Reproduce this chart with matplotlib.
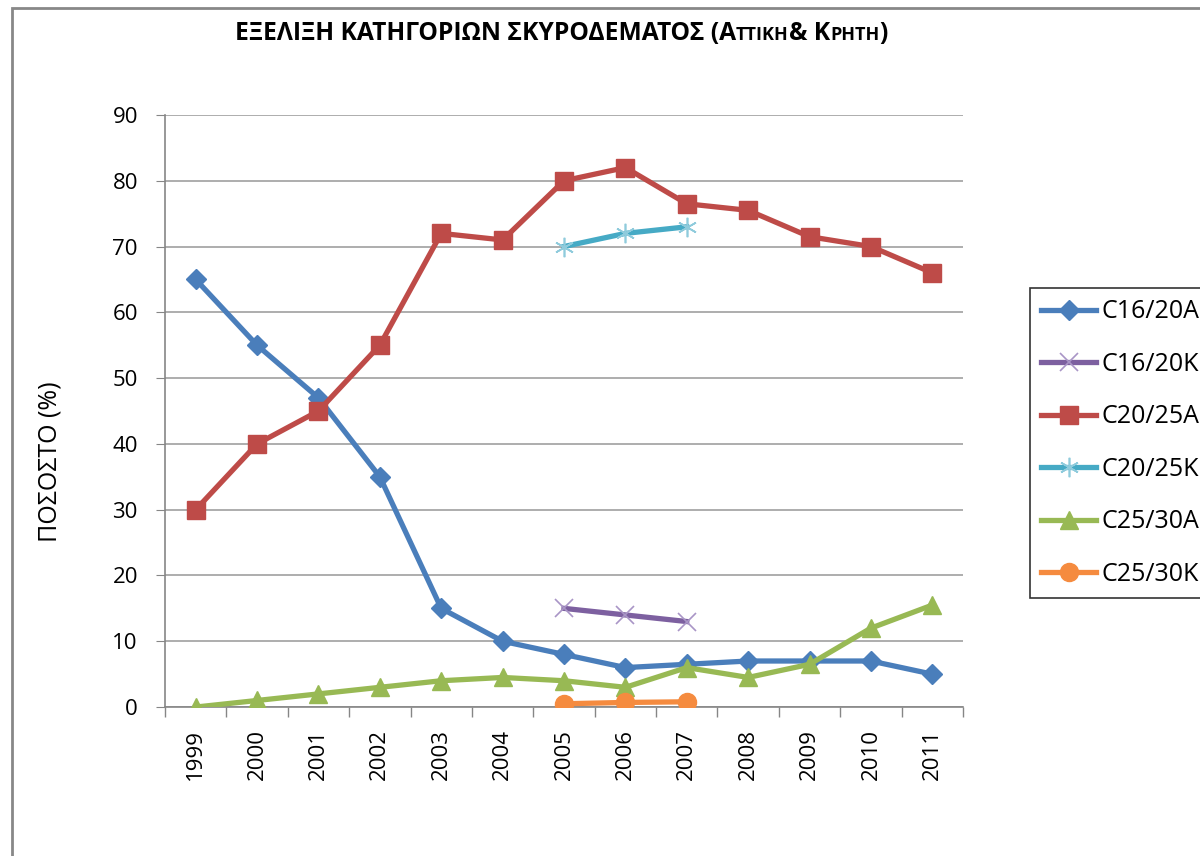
import matplotlib.pyplot as plt
import matplotlib.patches as mpatches

plt.rcParams['font.family'] = ['Open Sans', 'DejaVu Sans']

years = ['1999', '2000', '2001', '2002', '2003', '2004', '2005',
         '2006', '2007', '2008', '2009', '2010', '2011']

c1620a = [65, 55, 47, 35, 15, 10, 8, 6, 6.5, 7, 7, 7, 5]
c1620k = [15, 14, 13]
c2025a = [30, 40, 45, 55, 72, 71, 80, 82, 76.5, 75.5, 71.5, 70, 66]
c2025k = [70, 72, 73]
c2530a = [0, 1, 2, 3, 4, 4.5, 4, 3, 6, 4.5, 6.5, 12, 15.5]
c2530k = [0.5, 0.7, 0.8]
k_years = ['2005', '2006', '2007']

fig = plt.figure(figsize=(12, 8.56), dpi=100)
ax = fig.add_axes([0.1375, 0.174, 0.665, 0.6917])

# outer chart border (cut at right/bottom like the screenshot)
fig.patches.append(mpatches.Rectangle((12 / 1200, -0.05), 1.2, 1 - 8 / 856 + 0.05,
                                      transform=fig.transFigure, fill=False,
                                      edgecolor='#888888', linewidth=2))

x_all = list(range(len(years)))
x_k = [years.index(y) for y in k_years]

lw = 3.8
ax.plot(x_all, c1620a, color='#4A7EBB', lw=lw, marker='D', ms=10.5, label='C16/20A', zorder=3)
ax.plot(x_k, c1620k, color='#7D60A0', lw=lw, marker='x', ms=12.5, mew=1.2,
        mec='#A995C6', label='C16/20K', zorder=3)
ax.plot(x_all, c2025a, color='#BE4B48', lw=lw, marker='s', ms=13, label='C20/25A', zorder=3)
ax.plot(x_k, c2025k, color='#46AAC5', lw=lw, marker=(6, 2, 0), ms=14, mew=1.2,
        mec='#8FCBDC', label='C20/25K', zorder=3)
ax.plot(x_all, c2530a, color='#98B954', lw=lw, marker='^', ms=13, label='C25/30A', zorder=3)
ax.plot(x_k, c2530k, color='#F58B3F', lw=lw, marker='o', ms=13, label='C25/30K', zorder=4)

ax.set_xlim(-0.5, len(years) - 0.5)
ax.set_ylim(0, 90)
ax.set_yticks(range(0, 91, 10))
ax.set_xticks(x_all)
ax.set_xticklabels(years, rotation=90)
ax.set_xticks([i - 0.5 for i in range(len(years) + 1)], minor=True)
ax.tick_params(axis='x', which='major', length=0, pad=16, labelsize=16)
ax.tick_params(axis='x', which='minor', length=7, color='#868686', width=1)
ax.tick_params(axis='y', length=6.5, color='#868686', labelsize=16, pad=13)
fig.text(50 / 1200, 1 - 462 / 856, 'ΠΟΣΟΣΤΟ (%)', rotation=90, fontsize=18,
         ha='center', va='center')

ax.grid(axis='y', color='#A0A0A0', lw=1.2)
ax.set_axisbelow(True)
for side in ['top', 'right']:
    ax.spines[side].set_visible(False)
for side in ['left', 'bottom']:
    ax.spines[side].set_color('#868686')
    ax.spines[side].set_linewidth(1.2)

# title with small caps parts, baselines kept level
big, small = 17.7, 13
dy = 0.24 * (big - small)
t = fig.text(235 / 1200, 1 - 40 / 856, 'ΕΞΕΛΙΞΗ ΚΑΤΗΓΟΡΙΩΝ ΣΚΥΡΟΔΕΜΑΤΟΣ (Α',
             fontsize=big, fontweight='bold', va='baseline', ha='left')
parts = [('ΤΤΙΚΗ', small, dy), ('& Κ', big, -dy), ('ΡΗΤΗ', small, dy), (')', big, -dy)]
prev = t
for txt, fs, off in parts:
    prev = ax.annotate(txt, xy=(1, 0), xycoords=prev, xytext=(0, off),
                       textcoords='offset points', va='bottom', ha='left',
                       fontsize=fs, fontweight='bold', annotation_clip=False)

leg = fig.legend(loc='upper left', bbox_to_anchor=(1030 / 1200, 1 - 288 / 856),
                 fontsize=18, frameon=True, fancybox=False, edgecolor='black',
                 handlelength=2.2, labelspacing=1.1, borderpad=0.45, handletextpad=0.2,
                 borderaxespad=0)
leg.get_frame().set_linewidth(1.2)

fig.savefig('out.png', dpi=100)
